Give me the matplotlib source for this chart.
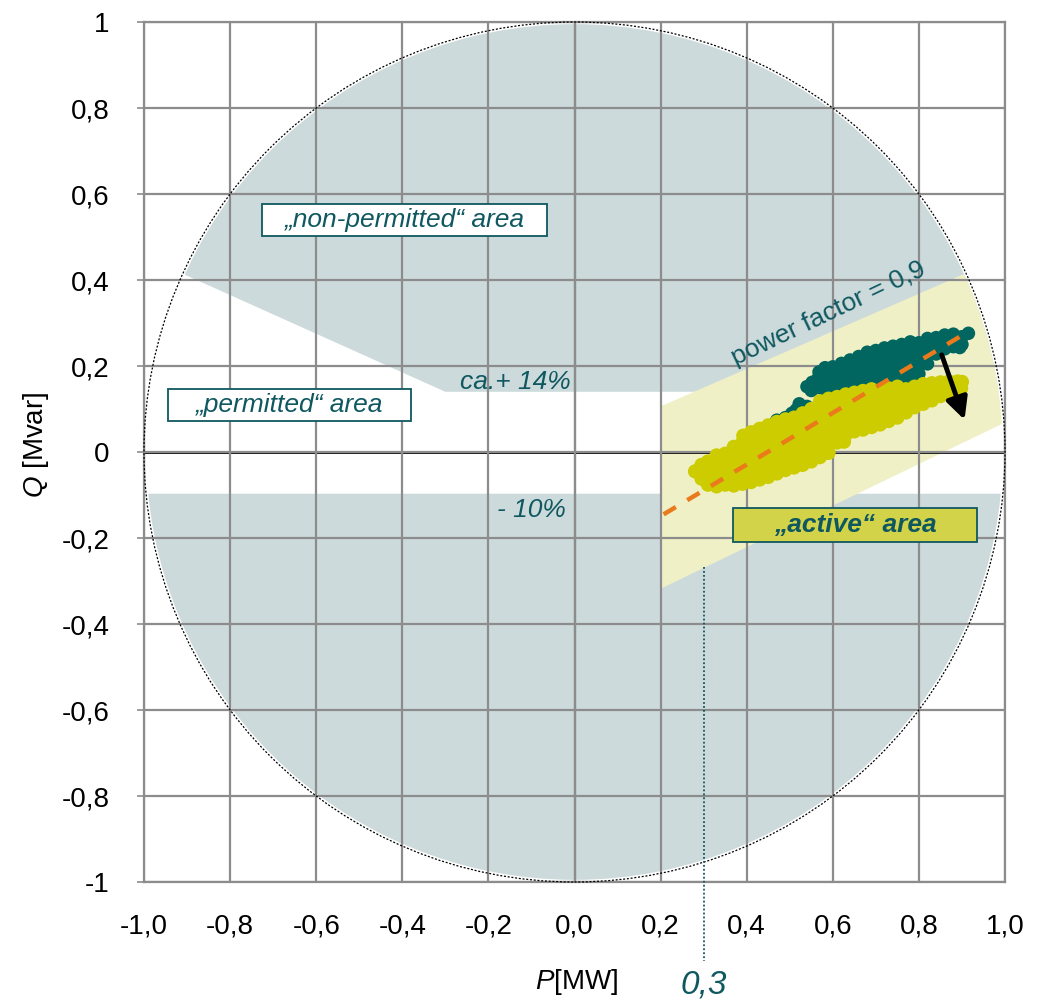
import numpy as np
import matplotlib
matplotlib.use("Agg")
import matplotlib.pyplot as plt
from matplotlib.patches import Circle, Polygon, Rectangle

plt.rcParams['font.family'] = ['Liberation Sans', 'DejaVu Sans']
plt.rcParams['mathtext.fontset'] = 'custom'
plt.rcParams['mathtext.it'] = 'Liberation Sans:italic'
plt.rcParams['mathtext.rm'] = 'Liberation Sans'

# ---------------- data ----------------
x_ticks = [-1.0, -0.8, -0.6, -0.4, -0.2, 0.0, 0.2, 0.4, 0.6, 0.8, 1.0]
x_tick_labels = ["-1,0", "-0,8", "-0,6", "-0,4", "-0,2", "0,0", "0,2", "0,4", "0,6", "0,8", "1,0"]
y_ticks = [-1.0, -0.8, -0.6, -0.4, -0.2, 0.0, 0.2, 0.4, 0.6, 0.8, 1.0]
y_tick_labels = ["-1", "-0,8", "-0,6", "-0,4", "-0,2", "0", "0,2", "0,4", "0,6", "0,8", "1"]

limit_upper_Q = 0.14      # ca. +14 %
limit_lower_Q = -0.097    # -10 %
wedge_P = [-1.05, -0.3]
wedge_Q = [0.4775, 0.14]
band_P = [0.2, 1.1]
band_top_Q = [0.106, 0.499]
band_bottom_Q = [-0.318, 0.117]
trend_P = [0.207, 0.918]
trend_Q = [-0.145, 0.282]
arrow_start = (0.853, 0.226)
arrow_end = (0.906, 0.075)
pf_limit_P = 0.3

teal_points = [
    (0.470, 0.074), (0.490, 0.080), (0.505, 0.090), (0.515, 0.098), (0.522, 0.112),
    (0.540, 0.106), (0.540, 0.152), (0.550, 0.143), (0.552, 0.162),
    (0.565, 0.150), (0.565, 0.170), (0.568, 0.186),
    (0.580, 0.145), (0.580, 0.165), (0.580, 0.185), (0.582, 0.196),
    (0.600, 0.142), (0.600, 0.160), (0.600, 0.180), (0.600, 0.198),
    (0.620, 0.140), (0.620, 0.160), (0.620, 0.180), (0.620, 0.200), (0.620, 0.206),
    (0.640, 0.140), (0.640, 0.160), (0.640, 0.180), (0.640, 0.200), (0.640, 0.214),
    (0.660, 0.142), (0.660, 0.162), (0.660, 0.182), (0.660, 0.202), (0.660, 0.222),
    (0.680, 0.142), (0.680, 0.162), (0.680, 0.182), (0.680, 0.202), (0.680, 0.222), (0.680, 0.232),
    (0.700, 0.145), (0.700, 0.165), (0.700, 0.185), (0.700, 0.205), (0.700, 0.225), (0.700, 0.236),
    (0.720, 0.148), (0.720, 0.168), (0.720, 0.188), (0.720, 0.208), (0.720, 0.228), (0.720, 0.242),
    (0.740, 0.152), (0.740, 0.172), (0.740, 0.192), (0.740, 0.212), (0.740, 0.232), (0.740, 0.246),
    (0.760, 0.160), (0.760, 0.180), (0.760, 0.200), (0.760, 0.220), (0.760, 0.240), (0.760, 0.250),
    (0.780, 0.170), (0.780, 0.190), (0.780, 0.210), (0.780, 0.230), (0.780, 0.250), (0.780, 0.256),
    (0.800, 0.182), (0.800, 0.200), (0.800, 0.218), (0.800, 0.236), (0.800, 0.254),
    (0.820, 0.205), (0.820, 0.225), (0.820, 0.245), (0.820, 0.264),
    (0.840, 0.228), (0.840, 0.248), (0.840, 0.266),
    (0.860, 0.240), (0.860, 0.256), (0.860, 0.272),
    (0.880, 0.245), (0.880, 0.260), (0.880, 0.274),
    (0.900, 0.250), (0.900, 0.268), (0.915, 0.276), (0.895, 0.243),
]

yellow_points = [
    (0.280, -0.045),
    (0.295, -0.062), (0.295, -0.030),
    (0.310, -0.076), (0.310, -0.052), (0.310, -0.022),
    (0.330, -0.080), (0.330, -0.056), (0.330, -0.032), (0.330, -0.008),
    (0.350, -0.076), (0.350, -0.052), (0.350, -0.028), (0.350, -0.004),
    (0.370, -0.078), (0.370, -0.055), (0.370, -0.032), (0.370, -0.008), (0.370, 0.012),
    (0.390, -0.074), (0.390, -0.050), (0.390, -0.026), (0.390, -0.002), (0.390, 0.022), (0.392, 0.038),
    (0.410, -0.070), (0.410, -0.046), (0.410, -0.022), (0.410, 0.002), (0.410, 0.026), (0.410, 0.046),
    (0.430, -0.064), (0.430, -0.040), (0.430, -0.016), (0.430, 0.008), (0.430, 0.032), (0.430, 0.054),
    (0.450, -0.058), (0.450, -0.034), (0.450, -0.010), (0.450, 0.014), (0.450, 0.038), (0.450, 0.062),
    (0.470, -0.050), (0.470, -0.026), (0.470, -0.002), (0.470, 0.022), (0.470, 0.046), (0.470, 0.070),
    (0.490, -0.042), (0.490, -0.018), (0.490, 0.006), (0.490, 0.030), (0.490, 0.054), (0.490, 0.076),
    (0.510, -0.036), (0.510, -0.012), (0.510, 0.012), (0.510, 0.036), (0.510, 0.060), (0.510, 0.080),
    (0.530, -0.030), (0.530, -0.006), (0.530, 0.018), (0.530, 0.042), (0.530, 0.066), (0.530, 0.090),
    (0.550, -0.022), (0.550, 0.002), (0.550, 0.026), (0.550, 0.050), (0.550, 0.074), (0.550, 0.100),
    (0.570, -0.012), (0.570, 0.010), (0.570, 0.034), (0.570, 0.058), (0.570, 0.082), (0.570, 0.106), (0.570, 0.118),
    (0.590, -0.002), (0.590, 0.020), (0.590, 0.042), (0.590, 0.066), (0.590, 0.090), (0.590, 0.112), (0.590, 0.124),
    (0.610, 0.022), (0.610, 0.044), (0.610, 0.064), (0.610, 0.086), (0.610, 0.106), (0.610, 0.128),
    (0.626, 0.024),
    (0.630, 0.040), (0.630, 0.058), (0.630, 0.076), (0.630, 0.096), (0.630, 0.114), (0.630, 0.134),
    (0.650, 0.048), (0.650, 0.066), (0.650, 0.086), (0.650, 0.104), (0.650, 0.122), (0.650, 0.138),
    (0.670, 0.052), (0.670, 0.072), (0.670, 0.092), (0.670, 0.112), (0.670, 0.130), (0.670, 0.142),
    (0.690, 0.058), (0.690, 0.078), (0.690, 0.098), (0.690, 0.118), (0.690, 0.136), (0.690, 0.146),
    (0.710, 0.064), (0.710, 0.084), (0.710, 0.104), (0.710, 0.124), (0.710, 0.142),
    (0.730, 0.072), (0.730, 0.092), (0.730, 0.112), (0.730, 0.130), (0.730, 0.148),
    (0.750, 0.080), (0.750, 0.100), (0.750, 0.118), (0.750, 0.136), (0.750, 0.152),
    (0.770, 0.092), (0.770, 0.110), (0.770, 0.128), (0.770, 0.146),
    (0.790, 0.104), (0.790, 0.120), (0.790, 0.136), (0.790, 0.152),
    (0.810, 0.112), (0.810, 0.128), (0.810, 0.144), (0.810, 0.158),
    (0.830, 0.120), (0.830, 0.136), (0.830, 0.150), (0.830, 0.160),
    (0.850, 0.130), (0.850, 0.146), (0.850, 0.162),
    (0.870, 0.140), (0.870, 0.154), (0.870, 0.164),
    (0.890, 0.150), (0.890, 0.164), (0.900, 0.163), (0.898, 0.148),
]

# ---------------- style ----------------
TEAL_TXT = "#0f5860"
TEAL_PT = "#00665f"
YELLOW_PT = "#cccc00"
GREY_FILL = "#cddadb"
BAND_FILL = "#f0f0c6"
ACTIVE_FILL = "#d3d34a"
GRID = "#8c8c8c"

fig = plt.figure(figsize=(10.41, 10.0), dpi=100)
ax = fig.add_axes([144 / 1041, 1 - 882 / 1000, 861 / 1041, 860 / 1000])
ax.set_xlim(-1, 1)
ax.set_ylim(-1, 1)

# grey non-permitted region (circle) with white permitted strip
grey = Circle((0, 0), 0.995, facecolor=GREY_FILL, edgecolor='none', zorder=1)
ax.add_patch(grey)
white_poly = Polygon([(wedge_P[0], wedge_Q[0]), (wedge_P[1], wedge_Q[1]),
                      (1.1, limit_upper_Q), (1.1, limit_lower_Q), (-1.1, limit_lower_Q),
                      (-1.1, wedge_Q[0])],
                     closed=True, facecolor='white', edgecolor='none', zorder=1.1)
ax.add_patch(white_poly)

# yellow "active" band clipped by circle
band = Polygon([(band_P[0], band_bottom_Q[0]), (band_P[0], band_top_Q[0]),
                (band_P[1], band_top_Q[1]), (band_P[1], band_bottom_Q[1])],
               closed=True, facecolor=BAND_FILL, edgecolor='none', zorder=1.2)
ax.add_patch(band)
band.set_clip_path(grey)

# grid
ax.set_xticks(x_ticks)
ax.set_xticklabels(x_tick_labels, fontsize=20)
ax.set_yticks(y_ticks)
ax.set_yticklabels(y_tick_labels, fontsize=20)
ax.set_axisbelow(False)
ax.grid(True, color=GRID, lw=1.6)
for gl in ax.get_xgridlines() + ax.get_ygridlines():
    gl.set_zorder(1.5)
for s in ax.spines.values():
    s.set_color(GRID)
    s.set_linewidth(1.6)
    s.set_zorder(1.5)
ax.tick_params(axis='x', length=0, pad=23)
ax.tick_params(axis='y', length=5, width=1.2, color=GRID, pad=20)

# zero axes
ax.axhline(0, color='black', lw=2.0, zorder=1.6)
ax.axvline(0, color='black', lw=1.5, zorder=1.6)

# unit circle
ax.add_patch(Circle((0, 0), 1.0, fill=False, edgecolor='black', lw=0.9,
                    linestyle=(0, (1.6, 1.4)), zorder=4, clip_on=False))

# measurement points
tp = np.array(teal_points)
yp = np.array(yellow_points)
ax.scatter(tp[:, 0], tp[:, 1], s=95, color=TEAL_PT, edgecolors='none', zorder=3)
ax.scatter(yp[:, 0], yp[:, 1], s=105, color=YELLOW_PT, edgecolors='none', zorder=3.1)

# trend line
ax.plot(trend_P, trend_Q, color='#ea7a1c', lw=3.2, linestyle=(0, (3.2, 3.0)),
        zorder=3.5, solid_capstyle='butt')

# arrow
ax.annotate('', xy=arrow_end, xytext=arrow_start,
            arrowprops=dict(arrowstyle='-|>,head_length=1.3,head_width=0.65',
                            color='black', lw=3.5, shrinkA=0, shrinkB=0),
            zorder=3.6)

# P limit dotted line
ax.plot([pf_limit_P, pf_limit_P], [-0.267, -1.184], color=TEAL_TXT, lw=1.3,
        linestyle=(0, (1, 1.2)), clip_on=False, zorder=4)
ax.text(pf_limit_P, -1.24, "0,3", fontsize=24, style='italic', color=TEAL_TXT,
        ha='center', va='center', clip_on=False)

# labelled boxes
def box(p0, p1, q0, q1, text, fc, bold=False):
    ax.add_patch(Rectangle((p0, q0), p1 - p0, q1 - q0, facecolor=fc,
                           edgecolor=TEAL_TXT, lw=1.3, zorder=5))
    ax.text((p0 + p1) / 2, (q0 + q1) / 2, text, fontsize=19, style='italic',
            weight='bold' if bold else 'normal', color=TEAL_TXT,
            ha='center', va='center', zorder=6)

box(-0.726, -0.064, 0.502, 0.577, "\u201enon-permitted\u201c area", 'white')
box(-0.945, -0.380, 0.073, 0.1465, "\u201epermitted\u201c area", 'white')
box(0.368, 0.935, -0.209, -0.130, "\u201eactive\u201c area", ACTIVE_FILL, bold=True)

ax.text(-0.009, 0.163, "ca.+ 14%", fontsize=19, style='italic', color=TEAL_TXT,
        ha='right', va='center', zorder=6)
ax.text(-0.020, -0.135, "- 10%", fontsize=19, style='italic', color=TEAL_TXT,
        ha='right', va='center', zorder=6)
ax.text(0.591, 0.323, "power factor = 0,9", fontsize=19, color=TEAL_TXT,
        ha='center', va='center', rotation=25.5, rotation_mode='anchor', zorder=6)

# axis labels
fig.text(577 / 1041, 1 - 982 / 1000, "$P$[MW]", fontsize=20, ha='center', va='center')
fig.text(36 / 1041, 1 - 445 / 1000, "$Q$ [Mvar]", fontsize=20, ha='center', va='center',
         rotation=90)

fig.savefig("out.png", dpi=100)
